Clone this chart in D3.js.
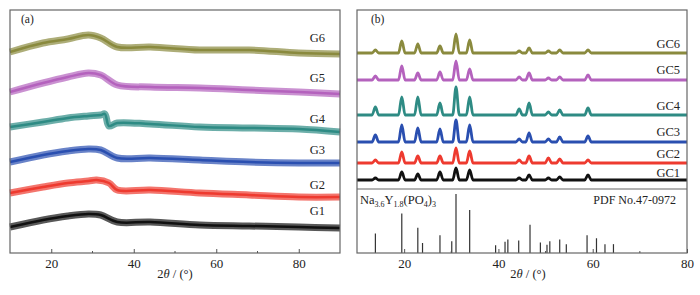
<!DOCTYPE html>
<html>
<head>
<meta charset="utf-8">
<script src="https://cdn.jsdelivr.net/npm/d3@7"></script>
<style>
  body { margin: 0; background: #fff; }
  text { font-family: "Liberation Serif", "DejaVu Serif", serif; fill: #222; }
</style>
</head>
<body>
<svg id="chart"></svg>
<script>
// Panel (a): glass samples, points [2theta, intensity]
const g1 = [[10, 26], [18, 33], [24, 37], [29, 39], [32, 38], [36, 31], [44, 31], [56, 28], [68, 27], [80, 26], [90, 25]];
const g2 = [[10, 60], [18, 66], [24, 70], [29, 72], [31, 73], [34, 70], [36, 63], [44, 63], [56, 60], [68, 58], [80, 56], [90, 56]];
const g3 = [[10, 91], [18, 98], [24, 102], [29, 104], [32, 103], [36, 95], [44, 95], [56, 93], [68, 91], [80, 90], [90, 90]];
const g4 = [[10, 126], [18, 131], [24, 135], [29, 137], [32, 138], [33, 139], [34, 127], [36, 130], [44, 129], [56, 126], [68, 125], [80, 124], [90, 121]];
const g5 = [[10, 161], [18, 170], [24, 176], [29, 180], [32, 178], [36, 168], [44, 166], [56, 165], [68, 163], [80, 161], [90, 159]];
const g6 = [[10, 201], [18, 210], [24, 214], [29, 218], [32, 215], [36, 206], [44, 206], [56, 203], [68, 203], [80, 200], [90, 199]];
const namesA = ["G1", "G2", "G3", "G4", "G5", "G6"];
const labelA = [38, 64, 99, 130, 171, 211]; // label baseline levels

// Panel (b): glass ceramics, peak positions and peak heights above each baseline
const peakPos = [13.9, 19.5, 22.9, 27.6, 31.0, 33.9, 44.4, 46.5, 50.6, 53.0, 59.0];
const gc1 = [2, 8, 6, 8, 12, 10, 2, 5, 2, 3, 5];
const gc2 = [3, 11, 7, 7, 15, 12, 3, 7, 5, 4, 3];
const gc3 = [7, 17, 14, 13, 22, 17, 3, 9, 3, 5, 6];
const gc4 = [8, 18, 18, 12, 28, 18, 6, 12, 3, 5, 7];
const gc5 = [4, 14, 7, 8, 19, 11, 3, 7, 2, 3, 5];
const gc6 = [3, 12, 9, 7, 19, 13, 2, 5, 2, 3, 3];
const baseB = [9, 26, 47, 74, 109, 136];
const namesB = ["GC1", "GC2", "GC3", "GC4", "GC5", "GC6"];
const labelB = [12, 31, 53, 79, 115, 141];

// PDF No.47-0972 reference lines
const pdfPos = [13.9, 19.5, 22.9, 23.9, 27.6, 30.1, 31.0, 33.9, 39.4, 41.4, 42.0, 44.3, 46.7, 48.9, 50.3, 50.9, 53.0, 54.4, 58.8, 60.8, 62.6, 64.4];
const pdfInt = [33, 67, 43, 17, 30, 20, 100, 73, 13, 19, 23, 21, 48, 18, 14, 20, 23, 15, 30, 25, 15, 15];

const colors = ["#111111", "#ee3a2f", "#2a4fb0", "#2e8b84", "#b462bd", "#8a8a3e"];

const width = 700;
const height = 295;

const svg = d3.select("#chart")
    .attr("width", width)
    .attr("height", height)
    .attr("viewBox", [0, 0, width, height]);

// frames
const A = {left: 10, right: 340, top: 10, bottom: 253};
const B = {left: 357, right: 687, top: 10, bottom: 253, split: 189};

const xA = d3.scaleLinear([10, 90], [A.left, A.right]);
const yA = d3.scaleLinear([0, 243], [A.bottom, A.top]);
const xB = d3.scaleLinear([10, 80], [B.left, B.right]);
const yB = d3.scaleLinear([0, 179], [B.split, B.top]);
const yP = d3.scaleLinear([0, 100], [B.bottom, 194]);

function axisBottom(g, x, ticks, minor, p) {
    g.attr("transform", `translate(0,${p.bottom})`)
        .call(d3.axisBottom(x).tickValues(ticks).tickSize(-4).tickPadding(6).tickFormat(d3.format("d")))
        .call(g => g.select(".domain").remove())
        .call(g => g.selectAll(".tick line").attr("stroke", "#555"))
        .call(g => g.selectAll(".tick text").attr("font-size", 13).attr("font-family", "Liberation Serif").attr("fill", "#222"));
    g.selectAll(".minor")
        .data(minor)
        .join("line")
        .attr("x1", d => x(d)).attr("x2", d => x(d))
        .attr("y1", 0).attr("y2", -2)
        .attr("stroke", "#555");
}

function title(cx) {
    const t = svg.append("text")
        .attr("x", cx).attr("y", 278)
        .attr("text-anchor", "middle")
        .attr("font-size", 12.5);
    t.append("tspan").text("2");
    t.append("tspan").attr("font-style", "italic").text("θ");
    t.append("tspan").text(" / (°)");
}

// ---- panel (a)
const lineA = d3.line().x(d => xA(d[0])).y(d => yA(d[1])).curve(d3.curveCatmullRom.alpha(0.5));
[g1, g2, g3, g4, g5, g6].forEach((s, i) => {
    svg.append("path")
        .attr("d", lineA(s))
        .attr("fill", "none")
        .attr("stroke", colors[i])
        .attr("stroke-width", 7)
        .attr("stroke-opacity", 0.7);
    svg.append("path")
        .attr("d", lineA(s))
        .attr("fill", "none")
        .attr("stroke", colors[i])
        .attr("stroke-width", 2.5);
    svg.append("text")
        .attr("x", 325)
        .attr("y", yA(labelA[i]))
        .attr("text-anchor", "end")
        .attr("font-size", 12.5)
        .text(namesA[i]);
});

svg.append("rect")
    .attr("x", A.left).attr("y", A.top)
    .attr("width", A.right - A.left).attr("height", A.bottom - A.top)
    .attr("fill", "none").attr("stroke", "#666").attr("stroke-width", 1.2);

svg.append("g").call(axisBottom, xA, [20, 40, 60, 80], [30, 50, 70], A);
svg.append("text").attr("x", 21).attr("y", 23).attr("font-size", 11.5).text("(a)");
title((A.left + A.right) / 2);

// ---- panel (b)
const lineB = d3.line().x(d => xB(d[0])).y(d => yB(d[1])).curve(d3.curveMonotoneX);
[gc1, gc2, gc3, gc4, gc5, gc6].forEach((h, i) => {
    const b = baseB[i];
    const pts = [[10, b]];
    peakPos.forEach((p, j) => {
        pts.push([p - 0.7, b], [p, b + h[j]], [p + 0.7, b]);
    });
    pts.push([80, b]);
    svg.append("path")
        .attr("d", lineB(pts))
        .attr("fill", "none")
        .attr("stroke", colors[i])
        .attr("stroke-width", 2.8)
        .attr("stroke-linejoin", "round");
    svg.append("text")
        .attr("x", 680)
        .attr("y", yB(labelB[i]))
        .attr("text-anchor", "end")
        .attr("font-size", 12.5)
        .text(namesB[i]);
});

svg.append("g")
    .selectAll("line")
    .data(pdfPos)
    .join("line")
    .attr("x1", d => xB(d)).attr("x2", d => xB(d))
    .attr("y1", B.bottom)
    .attr("y2", (d, i) => yP(pdfInt[i]))
    .attr("stroke", "#333")
    .attr("stroke-width", 1.2);

svg.append("rect")
    .attr("x", B.left).attr("y", B.top)
    .attr("width", B.right - B.left).attr("height", B.bottom - B.top)
    .attr("fill", "none").attr("stroke", "#666").attr("stroke-width", 1.2);
svg.append("line")
    .attr("x1", B.left).attr("x2", B.right)
    .attr("y1", B.split).attr("y2", B.split)
    .attr("stroke", "#666").attr("stroke-width", 1.2);

svg.append("g").call(axisBottom, xB, [20, 40, 60, 80], [30, 50, 70], B);
svg.append("text").attr("x", 371).attr("y", 23).attr("font-size", 11.5).text("(b)");

const na = svg.append("text").attr("x", 360).attr("y", 204).attr("font-size", 12.5);
na.append("tspan").text("Na");
na.append("tspan").attr("font-size", 8).attr("dy", 3).text("3.6");
na.append("tspan").attr("dy", -3).text("Y");
na.append("tspan").attr("font-size", 8).attr("dy", 3).text("1.8");
na.append("tspan").attr("dy", -3).text("(PO");
na.append("tspan").attr("font-size", 8).attr("dy", 3).text("4");
na.append("tspan").attr("dy", -3).text(")");
na.append("tspan").attr("font-size", 8).attr("dy", 3).text("3");

svg.append("text")
    .attr("x", 676).attr("y", 204)
    .attr("text-anchor", "end")
    .attr("font-size", 12)
    .text("PDF No.47-0972");

title((B.left + B.right) / 2 + 6);
</script>
</body>
</html>
